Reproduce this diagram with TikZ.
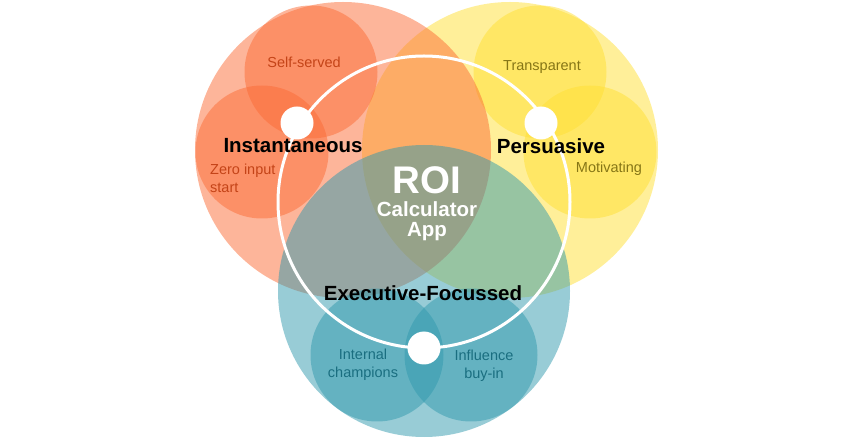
\documentclass[tikz,border=0pt]{standalone}
\usepackage{fontspec}
\setmainfont{Liberation Sans}
\definecolor{orangeC}{RGB}{251,107,53}
\definecolor{yellowC}{RGB}{255,223,51}
\definecolor{tealC}{RGB}{49,153,173}
\definecolor{orangeT}{RGB}{196,68,24}
\definecolor{yellowT}{RGB}{134,118,22}
\definecolor{tealT}{RGB}{26,110,128}
\tikzset{
  blob/.style={circle, inner sep=0pt, fill opacity=0.5, draw=none},
  bigblob/.style={blob, minimum size=296pt},
  smallblob/.style={blob, minimum size=133pt},
  dot/.style={circle, fill=white, inner sep=0pt, minimum size=33pt},
  title/.style={font=\fontsize{20.5}{24}\selectfont\bfseries, text=black, inner sep=0pt},
  sub/.style={font=\fontsize{14.5}{18}\selectfont, inner sep=0pt, align=center},
  center/.style={text=white, inner sep=0pt, font=\bfseries}
}
\begin{document}
\begin{tikzpicture}[x=1pt,y=-1pt]
\useasboundingbox (0,0) rectangle (852,438);
% yellow
\node[bigblob, fill=yellowC] (ybig) at (510,150) {};
\node[smallblob, fill=yellowC] (ytr) at (540,72) {};
\node[smallblob, fill=yellowC] (ymo) at (590,152) {};
% orange
\node[bigblob, fill=orangeC] (obig) at (343,150) {};
\node[smallblob, fill=orangeC] (oss) at (311,72) {};
\node[smallblob, fill=orangeC] (ozi) at (262,152) {};
% teal
\node[bigblob, fill=tealC, minimum size=292pt] (tbig) at (424,291) {};
\node[smallblob, fill=tealC] (tic) at (377,355) {};
\node[smallblob, fill=tealC] (tib) at (471,355) {};
% white ring
\node[circle, draw=white, line width=3pt, inner sep=0pt, minimum size=292pt] (ring) at (424,202) {};
% dots
\node[dot] (d1) at (297,123) {};
\node[dot] (d2) at (541,123) {};
\node[dot] (d3) at (424,348) {};
% titles
\node[title] (tinst) at (293,146) {Instantaneous};
\node[title] (tpers) at (551,146) {Persuasive};
\node[title] (texec) at (423,293) {Executive-Focussed};
% centre
\node[center, font=\fontsize{38.5}{42}\selectfont\bfseries] (roi) at (427,180) {ROI};
\node[center, font=\fontsize{20.5}{24}\selectfont\bfseries] (calc) at (427,209) {Calculator};
\node[center, font=\fontsize{20.5}{24}\selectfont\bfseries] (app) at (427,232) {App};
% sub labels
\node[sub, text=orangeT] (lss) at (304,62) {Self-served};
\node[sub, text=orangeT, align=left, anchor=west] (lzi) at (210,178) {Zero input\\start};
\node[sub, text=yellowT] (ltr) at (542,67) {Transparent};
\node[sub, text=yellowT] (lmo) at (609,169) {Motivating};
\node[sub, text=tealT] (lic) at (363,365) {Internal\\champions};
\node[sub, text=tealT] (lib) at (484,366) {Influence\\buy-in};
\end{tikzpicture}
\end{document}
